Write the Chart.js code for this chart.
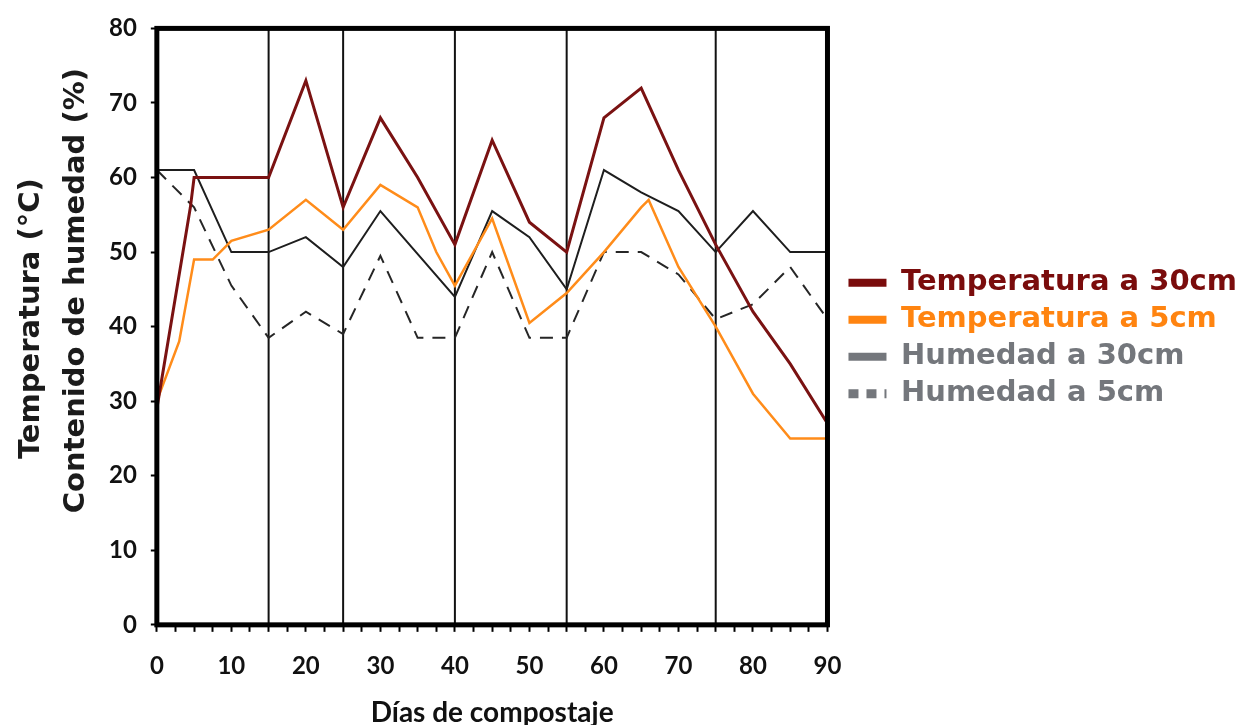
<!DOCTYPE html>
<html>
<head>
<meta charset="utf-8">
<script src="https://cdn.jsdelivr.net/npm/chart.js@4.4.1/dist/chart.umd.min.js"></script>
<style>
  html, body { margin: 0; padding: 0; background: #fff; }
  #wrap { width: 1251px; height: 725px; }
</style>
</head>
<body>
<div id="wrap"><canvas id="compost"></canvas></div>
<script>
// dias y valores
const temp30Days = [0, 2, 4, 4.5, 5, 15, 20, 25, 30, 35, 40, 45, 50, 55, 60, 65, 70, 75, 80, 85, 90];
const temp30 = [29, 41, 53, 56, 60, 60, 73, 56, 68, 60, 51, 65, 54, 50, 68, 72, 61, 51, 42, 35, 27];

const temp5Days = [0, 3, 5, 7.5, 10, 15, 20, 25, 30, 35, 37.5, 40, 45, 50, 55, 60, 65, 66, 70, 75, 80, 85, 90];
const temp5 = [30, 38, 49, 49, 51.5, 53, 57, 53, 59, 56, 50, 45.5, 54.5, 40.5, 44.5, 50, 56, 57, 48, 40, 31, 25, 25];

const hum30Days = [0, 5, 10, 15, 20, 25, 30, 40, 45, 50, 55, 60, 65, 70, 75, 80, 85, 90];
const hum30 = [61, 61, 50, 50, 52, 48, 55.5, 44, 55.5, 52, 45, 61, 58, 55.5, 50, 55.5, 50, 50];

const hum5Days = [0, 5, 10, 15, 20, 25, 30, 35, 40, 45, 50, 55, 60, 65, 70, 75, 80, 85, 90];
const hum5 = [61, 56, 45.5, 38.5, 42, 39, 49.5, 38.5, 38.5, 50, 38.5, 38.5, 50, 50, 47, 41, 43, 48, 41];

const phaseDays = [15, 25, 40, 55, 75];
const seriesNames = ["Temperatura a 30cm", "Temperatura a 5cm", "Humedad a 30cm", "Humedad a 5cm"];
const yTitle = ["Temperatura (°C)", "Contenido de humedad (%)"];
const xTitle = "Días de compostaje";

const pts = (xs, ys) => xs.map((x, i) => ({ x: x, y: ys[i] }));

// colores de la leyenda (las humedades salen grises en la leyenda)
const legendStyle = [
  { color: "#7a0c0c", dash: [], width: 8 },
  { color: "#ff8410", dash: [], width: 8 },
  { color: "#74777c", dash: [], width: 8 },
  { color: "#74777c", dash: [10, 8], width: 9 },
];

let datasets = [
  { label: seriesNames[0], data: pts(temp30Days, temp30), borderColor: "#7a1212", borderWidth: 3 },
  { label: seriesNames[1], data: pts(temp5Days, temp5), borderColor: "#ff8c1a", borderWidth: 2.5 },
  { label: seriesNames[2], data: pts(hum30Days, hum30), borderColor: "#1e1e1e", borderWidth: 2 },
  { label: seriesNames[3], data: pts(hum5Days, hum5), borderColor: "#262626", borderWidth: 2, borderDash: [13, 9] },
];

phaseDays.forEach((d) => {
  datasets.push({
    label: "fase",
    data: [{ x: d, y: 0 }, { x: d, y: 80 }],
    borderColor: "#111",
    borderWidth: 2,
    order: 10,
  });
});

let frame = {
  id: "frame",
  afterDraw(chart) {
    let ctx = chart.ctx;
    let a = chart.chartArea;
    ctx.save();
    ctx.strokeStyle = "#000";
    ctx.lineWidth = 5;
    ctx.strokeRect(a.left, a.top, a.right - a.left, a.bottom - a.top);

    // titulo del eje y en dos lineas
    let mid = (a.top + a.bottom) / 2;
    ctx.fillStyle = "#1b1b1b";
    ctx.font = "bold 29px 'DejaVu Sans'";
    ctx.textAlign = "center";
    ctx.textBaseline = "middle";
    ctx.translate(a.left - 125, mid - 8);
    ctx.rotate(-Math.PI / 2);
    ctx.fillText(yTitle[0], 0, 0);
    ctx.restore();

    ctx.save();
    ctx.fillStyle = "#1b1b1b";
    ctx.font = "bold 29px 'DejaVu Sans'";
    ctx.textAlign = "center";
    ctx.textBaseline = "middle";
    ctx.translate(a.left - 80, mid - 36);
    ctx.rotate(-Math.PI / 2);
    ctx.fillText(yTitle[1], 0, 0);
    ctx.restore();
  },
};

let chartIs = new Chart(document.getElementById("compost"), {
  type: "line",
  data: { datasets: datasets },
  plugins: [frame],
  options: {
    responsive: true,
    maintainAspectRatio: false,
    animation: false,
    elements: {
      point: { radius: 0 },
      line: { tension: 0, fill: false },
    },
    layout: { padding: { left: 95, right: 4, top: 27, bottom: 0 } },
    scales: {
      x: {
        type: "linear",
        min: 0,
        max: 90,
        border: { display: false },
        grid: { drawOnChartArea: false, drawTicks: true, tickLength: 7, tickWidth: 2, tickColor: "#000" },
        ticks: {
          stepSize: 2.5,
          autoSkip: false,
          maxRotation: 0,
          padding: 20,
          color: "#111",
          font: { family: "Lato", size: 24, weight: "bold" },
          callback: (v) => (v % 10 === 0 ? v : ""),
        },
        title: {
          display: true,
          text: xTitle,
          color: "#111",
          font: { family: "Lato", size: 28, weight: "bold", lineHeight: 0.87 },
          padding: { top: 0, bottom: 0 },
        },
      },
      y: {
        min: 0,
        max: 80,
        border: { display: false },
        grid: { drawOnChartArea: false, drawTicks: true, tickLength: 6, tickWidth: 2, tickColor: "#000" },
        ticks: {
          stepSize: 10,
          padding: 14,
          color: "#111",
          font: { family: "Lato", size: 24, weight: "bold" },
        },
      },
      // hueco entre el grafico y la leyenda
      gap: {
        position: "right",
        display: true,
        ticks: { display: false },
        grid: { display: false },
        border: { display: false },
        afterFit: (scale) => { scale.width = 13; },
      },
    },
    plugins: {
      tooltip: { enabled: false },
      legend: {
        position: "right",
        fullSize: false,
        align: "center",
        maxWidth: 430,
        title: { display: true, text: "", font: { size: 1 }, padding: { top: 11, bottom: 11 } },
        labels: {
          usePointStyle: true,
          pointStyleWidth: 38,
          padding: 8,
          font: { family: "'DejaVu Sans'", size: 29, weight: "bold" },
          generateLabels: (chart) =>
            seriesNames.map((name, i) => ({
              text: name,
              datasetIndex: i,
              fontColor: legendStyle[i].color,
              fillStyle: legendStyle[i].color,
              strokeStyle: legendStyle[i].color,
              lineWidth: legendStyle[i].width,
              lineDash: legendStyle[i].dash,
              lineCap: "butt",
              pointStyle: "line",
              hidden: false,
            })),
        },
      },
    },
  },
});
</script>
</body>
</html>
